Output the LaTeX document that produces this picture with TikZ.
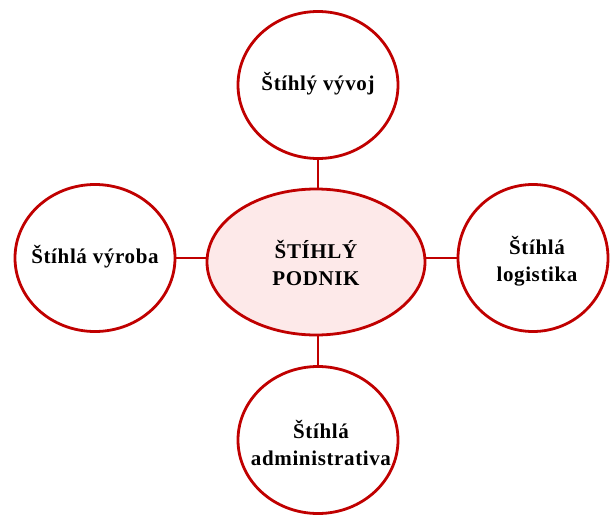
\documentclass[tikz,border=0pt]{standalone}
\usepackage{fontspec}
\setmainfont{Liberation Serif}[LetterSpace=3]
\usetikzlibrary{shapes.geometric}
\definecolor{dred}{HTML}{C00000}
\definecolor{pinkfill}{HTML}{FDE9E9}
\tikzset{
  bubble/.style={ellipse, draw=dred, line width=2.8pt, inner sep=0pt, fill=white},
  caption/.style={align=center, inner sep=0pt, font=\fontsize{21}{27}\selectfont\bfseries, text=black},
  link/.style={draw=dred, line width=1.3pt}
}
\begin{document}
\begin{tikzpicture}[x=1pt,y=-1pt]
  \useasboundingbox (0,0) rectangle (610,514);
  \clip (0,0) rectangle (610,514);
  \node[bubble, minimum width=218pt, minimum height=146pt, fill=pinkfill] (core) at (316,262) {};
  \node[bubble, minimum width=160pt, minimum height=147pt] (top) at (318,85) {};
  \node[bubble, minimum width=160pt, minimum height=147pt] (left) at (95,258) {};
  \node[bubble, minimum width=150pt, minimum height=147pt] (right) at (533,258) {};
  \node[bubble, minimum width=160pt, minimum height=147pt] (bottom) at (318,440) {};
  \node[caption] (coret) at ([yshift=-1pt]core.center) {ŠTÍHLÝ\\PODNIK};
  \node[caption] (topt) at ([yshift=1pt]top.center) {Štíhlý vývoj};
  \node[caption] (leftt) at ([yshift=1pt]left.center) {Štíhlá výroba};
  \node[caption] (rightt) at ([xshift=4pt,yshift=-3pt]right.center) {Štíhlá\\logistika};
  \node[caption] (bottomt) at ([xshift=3pt,yshift=-3pt]bottom.center) {Štíhlá\\administrativa};
  \draw[link] (top.south) -- (top.south |- core.north);
  \draw[link] (bottom.north) -- (bottom.north |- core.south);
  \draw[link] (left.east) -- (left.east -| core.west);
  \draw[link] (right.west) -- (right.west -| core.east);
\end{tikzpicture}
\end{document}
